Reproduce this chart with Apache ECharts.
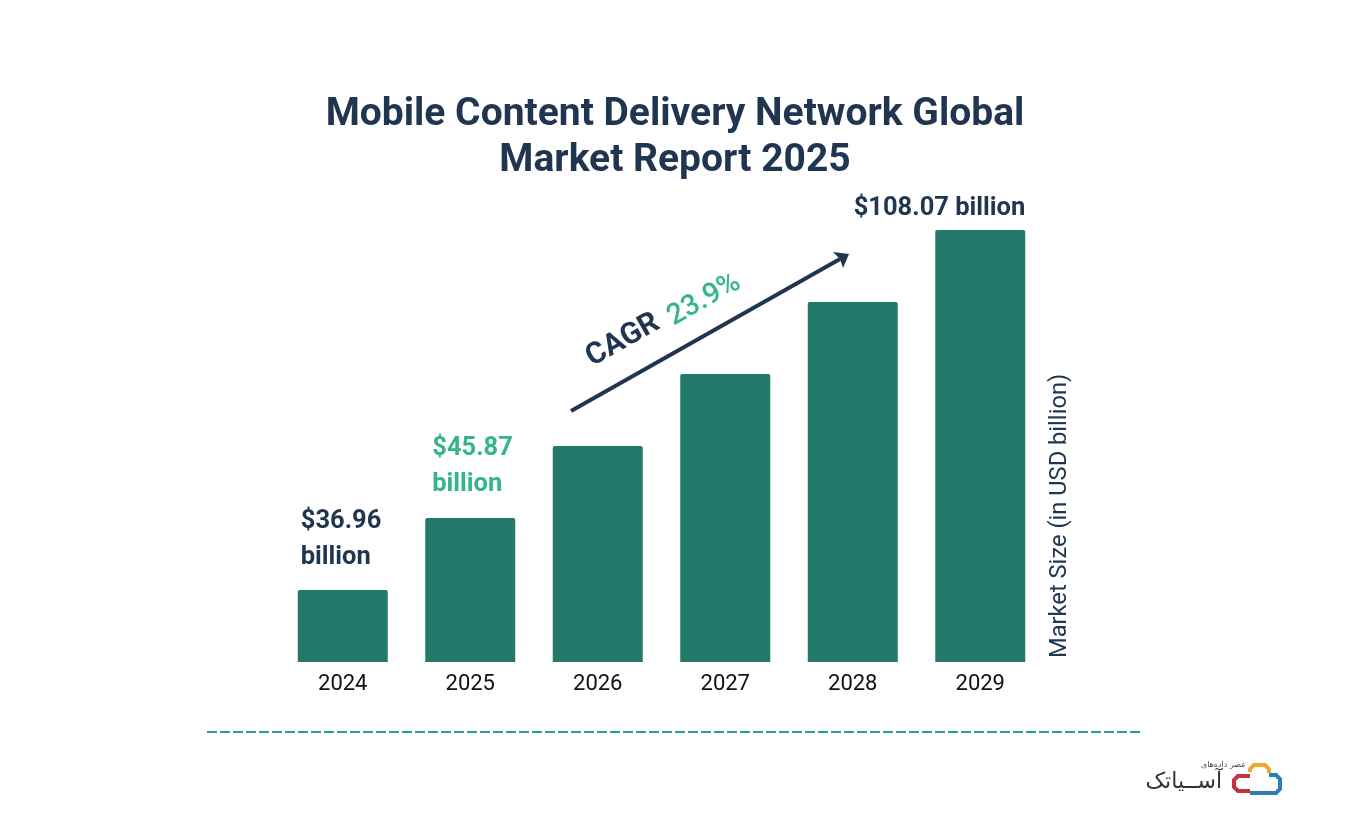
<!DOCTYPE html>
<html>
<head>
<meta charset="utf-8">
<style>html,body{margin:0;background:#fff}#chart{width:1350px;height:825px}</style>
<script src="https://cdn.jsdelivr.net/npm/echarts@6/dist/echarts.min.js"></script>
</head>
<body>
<div id="chart"></div>
<script>
var years = ['2024', '2025', '2026', '2027', '2028', '2029'];
// the bars are drawn evenly stepped, not to scale with the printed figures
var barHeights = [72, 144, 216, 288, 360, 432];
var barLabels = ['$36.96\nbillion', '$45.87\nbillion', '', '', '', '$108.07 billion'];
var labelColors = ['#1f3550', '#35b58a', '#1f3550', '#1f3550', '#1f3550', '#1f3550'];
var labelOffsets = [[3, -86], [7, -87], [0, 0], [0, 0], [0, 0], [90, -39]];

var navy = '#1f3550';
var font = 'Roboto';

var myChart = echarts.init(document.getElementById('chart'));

var barData = years.map(function (y, i) {
    return {
        value: barHeights[i],
        label: {
            show: barLabels[i] !== '',
            formatter: barLabels[i],
            color: labelColors[i],
            position: labelOffsets[i],
            align: i === years.length - 1 ? 'right' : 'left'
        }
    };
});

option = {
    animation: false,
    backgroundColor: '#fff',
    title: {
        text: 'Mobile Content Delivery Network Global\nMarket Report 2025',
        left: 670,
        top: 87,
        textAlign: 'center',
        textStyle: { fontFamily: font, fontSize: 39, fontWeight: 700, color: navy, lineHeight: 46 }
    },
    grid: { left: 279, width: 765, top: 162, height: 500 },
    xAxis: {
        type: 'category',
        data: years,
        axisLine: { show: false },
        axisTick: { show: false },
        axisLabel: { fontFamily: font, fontSize: 22, color: '#111', margin: 11 }
    },
    yAxis: {
        type: 'value',
        position: 'right',
        offset: 16,
        min: 0,
        max: 500,
        splitLine: { show: false },
        axisLine: { show: false },
        axisTick: { show: false },
        axisLabel: { show: false },
        name: 'Market Size (in USD billion)',
        nameLocation: 'start',
        nameRotate: 90,
        nameGap: -4,
        nameTextStyle: { fontFamily: font, fontSize: 23.7, color: navy, align: 'left', verticalAlign: 'middle' }
    },
    series: [{
        type: 'bar',
        data: barData,
        barWidth: 90,
        itemStyle: { color: '#237a6b', borderRadius: [2, 2, 0, 0] },
        label: { fontFamily: font, fontSize: 25.5, fontWeight: 700, lineHeight: 36 }
    }],
    graphic: [
        // CAGR arrow
        { type: 'line', shape: { x1: 571, y1: 411, x2: 840, y2: 259 }, style: { stroke: navy, lineWidth: 4 } },
        { type: 'polygon', shape: { points: [[833, 252], [849, 254], [843, 268], [840, 259]] }, style: { fill: navy } },
        {
            type: 'text', x: 596, y: 373, rotation: 29.4 * Math.PI / 180,
            style: { text: 'CAGR', fontFamily: font, fontSize: 30, fontWeight: 700, fill: navy, align: 'left', verticalAlign: 'bottom' }
        },
        {
            type: 'text', x: 677, y: 332, rotation: 29.4 * Math.PI / 180,
            style: { text: '23.9%', fontFamily: font, fontSize: 29, fontWeight: 500, fill: '#35b58a', align: 'left', verticalAlign: 'bottom' }
        },
        // divider
        { type: 'line', shape: { x1: 207, y1: 732, x2: 1142, y2: 732 }, style: { stroke: '#2a9d94', lineWidth: 2, lineDash: [10, 3] } },
        // logo
        { type: 'polyline', shape: { points: [[1250, 772], [1250, 769], [1254, 765], [1265, 765], [1269, 769], [1269, 773]] }, style: { stroke: '#eba92f', lineWidth: 4, fill: 'none' } },
        { type: 'polyline', shape: { points: [[1250, 776], [1238, 776], [1234, 780], [1234, 787], [1238, 791], [1250, 791]] }, style: { stroke: '#c6313a', lineWidth: 4, fill: 'none' } },
        { type: 'polyline', shape: { points: [[1269, 775], [1276, 775], [1280, 779], [1280, 789], [1276, 793], [1250, 793]] }, style: { stroke: '#2a7fb5', lineWidth: 4, fill: 'none' } },
        { type: 'text', x: 1246, y: 765, style: { text: 'عصر داده‌های', fontFamily: 'DejaVu Sans', fontSize: 8, fill: '#444', align: 'right', verticalAlign: 'middle' } },
        { type: 'text', x: 1222, y: 782, style: { text: 'آســیاتک', fontFamily: 'DejaVu Sans', fontSize: 22, fill: '#333', align: 'right', verticalAlign: 'middle' } }
    ]
};
myChart.setOption(option);
</script>
</body>
</html>
